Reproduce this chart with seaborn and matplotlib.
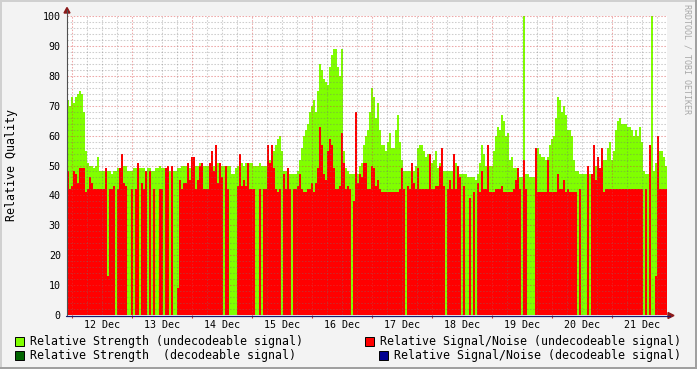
import numpy as np
import pandas as pd
import matplotlib
matplotlib.use("Agg")
import matplotlib.pyplot as plt
import seaborn as sns
from matplotlib.patches import Rectangle, Polygon
from matplotlib.lines import Line2D

# ---- data: one sample per 48 minutes, from 11 Dec 22:00 ----
strength_undecodeable = [
    72, 70, 73, 71, 73, 74, 75, 74, 68, 55,
    51, 50, 50, 49, 50, 53, 48, 48, 48, 48,
    48, 48, 47, 48, 48, 49, 49, 49, 50, 50,
    48, 48, 48, 49, 49, 49, 49, 49, 49, 48,
    49, 49, 48, 48, 49, 49, 50, 49, 49, 49,
    48, 48, 48, 48, 48, 49, 49, 50, 50, 50,
    50, 49, 50, 51, 50, 50, 51, 50, 50, 50,
    50, 50, 50, 50, 50, 51, 50, 50, 50, 50,
    50, 50, 47, 47, 49, 50, 51, 51, 50, 51,
    50, 51, 51, 50, 50, 50, 51, 50, 50, 50,
    51, 52, 52, 55, 57, 59, 60, 55, 48, 48,
    49, 47, 47, 47, 47, 48, 52, 56, 60, 62,
    64, 68, 70, 72, 68, 75, 84, 82, 79, 78,
    77, 83, 87, 89, 89, 83, 80, 89, 55, 49,
    48, 47, 47, 47, 47, 47, 50, 51, 57, 60,
    62, 68, 76, 73, 66, 71, 62, 57, 57, 55,
    58, 61, 56, 56, 62, 67, 58, 52, 48, 48,
    48, 48, 48, 48, 50, 56, 57, 57, 55, 53,
    54, 53, 51, 52, 55, 49, 51, 51, 48, 48,
    48, 48, 48, 50, 51, 50, 47, 47, 47, 47,
    46, 46, 46, 46, 45, 47, 51, 57, 54, 50,
    51, 50, 50, 55, 60, 63, 62, 67, 65, 60,
    61, 52, 53, 49, 49, 48, 46, 46, 100, 47,
    47, 46, 46, 46, 50, 56, 54, 53, 53, 52,
    53, 57, 59, 60, 66, 73, 72, 68, 70, 67,
    62, 62, 60, 52, 48, 48, 47, 47, 47, 47,
    47, 47, 47, 48, 50, 50, 48, 50, 52, 52,
    56, 58, 52, 55, 62, 65, 66, 64, 64, 64,
    63, 63, 62, 60, 62, 60, 63, 58, 48, 47,
    47, 47, 100, 48, 51, 52, 55, 55, 53, 50,
]
snr_undecodeable = [
    48, 42, 43, 48, 47, 44, 49, 49, 49, 41,
    42, 46, 44, 42, 42, 42, 42, 42, 42, 49,
    13, 42, 42, 43, 0, 42, 49, 54, 44, 43,
    0, 0, 42, 0, 42, 51, 0, 44, 42, 48,
    0, 48, 0, 42, 0, 0, 42, 42, 0, 49,
    50, 0, 50, 0, 0, 9, 45, 42, 44, 44,
    51, 45, 53, 53, 42, 45, 50, 51, 42, 42,
    42, 51, 55, 48, 57, 44, 51, 46, 0, 50,
    42, 0, 0, 0, 0, 43, 54, 43, 45, 43,
    51, 42, 42, 42, 0, 0, 42, 0, 42, 42,
    57, 51, 57, 49, 42, 41, 42, 0, 47, 42,
    49, 42, 0, 42, 42, 43, 47, 42, 41, 41,
    42, 42, 44, 41, 44, 49, 63, 57, 47, 45,
    55, 59, 57, 49, 42, 42, 43, 61, 51, 42,
    43, 42, 0, 38, 68, 44, 47, 46, 51, 51,
    42, 42, 50, 49, 43, 45, 42, 41, 41, 41,
    41, 41, 41, 41, 41, 41, 42, 49, 42, 0,
    43, 42, 51, 44, 42, 49, 42, 42, 42, 42,
    42, 54, 42, 42, 43, 43, 50, 56, 43, 0,
    42, 45, 42, 54, 42, 50, 46, 0, 43, 0,
    0, 39, 0, 41, 0, 44, 41, 48, 42, 42,
    57, 41, 41, 41, 42, 42, 42, 43, 41, 41,
    41, 41, 41, 42, 45, 49, 42, 0, 52, 42,
    0, 0, 0, 0, 56, 41, 41, 41, 41, 41,
    52, 41, 41, 41, 41, 47, 42, 42, 45, 41,
    42, 41, 41, 41, 41, 0, 42, 0, 0, 0,
    50, 0, 47, 57, 45, 53, 49, 56, 41, 42,
    42, 42, 42, 42, 42, 42, 42, 42, 42, 42,
    42, 42, 42, 42, 42, 42, 42, 42, 0, 42,
    0, 57, 0, 0, 13, 60, 42, 42, 42, 42,
]
day_labels = ["12 Dec", "13 Dec", "14 Dec", "15 Dec", "16 Dec",
              "17 Dec", "18 Dec", "19 Dec", "20 Dec", "21 Dec"]
y_ticks = list(range(0, 101, 10))
legend_labels = ["Relative Strength (undecodeable signal)",
                 "Relative Strength  (decodeable signal)",
                 "Relative Signal/Noise (undecodeable signal)",
                 "Relative Signal/Noise (decodeable signal)"]
legend_colors = ["#80FF00", "#006400", "#FF0000", "#000090"]

# ---- figure ----
sns.set_style("white")
plt.rcParams['font.family'] = ['DejaVu Sans Mono']

W, H = 697, 369
def fx(px):
    return px / W
def fy(py):
    return 1 - py / H

fig = plt.figure(figsize=(W / 100, H / 100), dpi=100, facecolor='#F3F3F3')
ax = fig.add_axes([fx(67), fy(315), 600 / W, 299 / H])
ax.set_facecolor('white')

n = len(strength_undecodeable)
df = pd.DataFrame({'slot': np.arange(n),
                   'strength': strength_undecodeable,
                   'snr': snr_undecodeable})
sns.barplot(data=df, x='slot', y='strength', native_scale=True, width=1,
            color='#80FF00', saturation=1, linewidth=0, errorbar=None, ax=ax)
sns.barplot(data=df, x='slot', y='snr', native_scale=True, width=1,
            color='#FF0000', saturation=1, linewidth=0, errorbar=None, ax=ax)
for p in ax.patches:
    p.set_antialiased(False)
    p.set_edgecolor('none')

ax.set_xlim(-0.5, n - 0.5)
ax.set_ylim(0, 100)
ax.set_xlabel('')
ax.set_ylabel('')

# time mapping: slot units, 30 slots per day; midnight 12 Dec at 2.0
midnights = [2 + 30 * k for k in range(10)]
noons = [17 + 30 * k for k in range(10)]

# grid (drawn above data, as in rrdtool)
dash = (0, (1.5, 1.5))
for v in range(2, 101, 2):
    if v % 10:
        ax.axhline(v, color=(0.45, 0.45, 0.45), alpha=0.35, lw=0.75, ls=dash, zorder=3)
for v in range(10, 101, 10):
    ax.axhline(v, color=(0.85, 0.25, 0.25), alpha=0.45, lw=0.75, ls=dash, zorder=3)
for k in range(-1, 11):
    for q in (1, 2, 3):
        xv = 2 + 30 * k + 7.5 * q
        if -0.5 < xv < n - 0.5:
            ax.axvline(xv, color=(0.45, 0.45, 0.45), alpha=0.35, lw=0.75, ls=dash, zorder=3)
for m in midnights:
    ax.axvline(m, color=(0.85, 0.25, 0.25), alpha=0.45, lw=0.75, ls=dash, zorder=3)

for s in ax.spines.values():
    s.set_visible(False)

ax.set_yticks(y_ticks)
ax.set_yticklabels([str(v) for v in y_ticks])
ax.set_xticks(noons)
ax.set_xticklabels(day_labels)
ax.set_xticks(midnights, minor=True)
ax.tick_params(axis='both', which='major', length=0, labelsize=7.2, colors='black')
ax.tick_params(axis='y', pad=4.5)
ax.tick_params(axis='x', pad=3.5)
ax.tick_params(axis='x', which='minor', length=2.5, width=0.8, color='#C83030',
               direction='out', bottom=True)

# axes lines and arrows
fig.add_artist(Line2D([fx(67), fx(67)], [fy(315), fy(10)], color='#505050', lw=0.8,
                      transform=fig.transFigure))
fig.add_artist(Line2D([fx(66), fx(670)], [fy(315.5), fy(315.5)], color='#1A1A70', lw=0.9,
                      transform=fig.transFigure))
fig.add_artist(Polygon([[fx(64), fy(13)], [fx(70), fy(13)], [fx(67), fy(7.5)]],
                       closed=True, color='#8B1A1A', transform=fig.transFigure))
fig.add_artist(Polygon([[fx(668), fy(312.5)], [fx(668), fy(318.5)], [fx(674), fy(315.5)]],
                       closed=True, color='#8B1A1A', transform=fig.transFigure))

# labels
fig.text(fx(12), fy(165), "Relative Quality", rotation=90, ha='center', va='center',
         fontsize=8.4, color='black')
fig.text(fx(687.5), fy(4), "RRDTOOL / TOBI OETIKER", rotation=270, ha='center', va='top',
         fontsize=6.0, color='#A8A8A8')

# legend
def legend_item(xbox, ycen, color, text):
    fig.add_artist(Rectangle((fx(xbox), fy(ycen + 4.5)), 9 / W, 9 / H, facecolor=color,
                             edgecolor='black', lw=0.7, transform=fig.transFigure))
    fig.text(fx(xbox + 15), fy(ycen), text, ha='left', va='center', fontsize=8.4,
             color='black')

legend_item(15, 341.5, legend_colors[0], legend_labels[0])
legend_item(15, 355, legend_colors[1], legend_labels[1])
legend_item(365, 341.5, legend_colors[2], legend_labels[2])
legend_item(379, 355, legend_colors[3], legend_labels[3])

# 3D-ish frame
fig.add_artist(Rectangle((0, fy(2)), 1, 2 / H, facecolor='#D0D0D0', edgecolor='none',
                         transform=fig.transFigure))
fig.add_artist(Rectangle((0, 0), 2 / W, 1, facecolor='#D0D0D0', edgecolor='none',
                         transform=fig.transFigure))
fig.add_artist(Rectangle((0, 0), 1, 2.5 / H, facecolor='#A0A0A0', edgecolor='none',
                         transform=fig.transFigure))
fig.add_artist(Rectangle((1 - 2.5 / W, 0), 2.5 / W, 1, facecolor='#A0A0A0', edgecolor='none',
                         transform=fig.transFigure))

fig.savefig("out.png", dpi=100, facecolor=fig.get_facecolor())
